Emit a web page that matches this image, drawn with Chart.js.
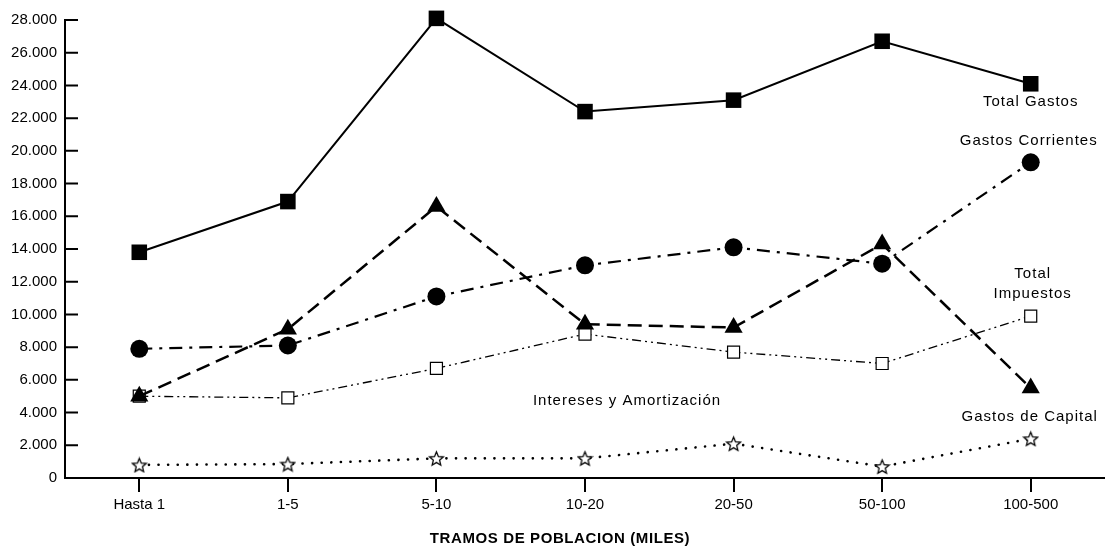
<!DOCTYPE html>
<html lang="es">
<head>
  <meta charset="UTF-8">
  <title>Tramos de poblacion</title>
  <script src="https://cdn.jsdelivr.net/npm/chart.js"></script>
  <style>
    body {
      margin: 0;
      background-color: #fff;
    }
    canvas {
      display: block;
    }
  </style>
</head>
<body>

<canvas id="tramosChart" width="1105" height="547"></canvas>

<script>
  // categorias y series
  const categories = ['Hasta 1', '1-5', '5-10', '10-20', '20-50', '50-100', '100-500'];
  const yTicks = [0, 2000, 4000, 6000, 8000, 10000, 12000, 14000, 16000, 18000, 20000, 22000, 24000, 26000, 28000];

  const totalGastos      = [13800, 16900, 28100, 22400, 23100, 26700, 24100];
  const gastosCorrientes = [7900, 8100, 11100, 13000, 14100, 13100, 19300];
  const gastosCapital    = [5000, 9100, 16600, 9400, 9200, 14300, 5500];
  const totalImpuestos   = [5000, 4900, 6700, 8800, 7700, 7000, 9900];
  const intereses        = [800, 850, 1200, 1200, 2100, 700, 2400];

  const FONT = '"Liberation Sans", Arial, Helvetica, sans-serif';

  // etiquetas de texto dentro del grafico
  const notes = [
    { text: 'Total Gastos', index: 6, value: 23000, dx: 0 },
    { text: 'Gastos Corrientes', index: 6, value: 20600, dx: -2 },
    { text: 'Total', index: 6, value: 12470, dx: 2 },
    { text: 'Impuestos', index: 6, value: 11250, dx: 2 },
    { text: 'Intereses y Amortización', index: 3, value: 4710, dx: 42 },
    { text: 'Gastos de Capital', index: 6, value: 3730, dx: -1 }
  ];

  function makeStar(size) {
    const c = document.createElement('canvas');
    c.width = size;
    c.height = size;
    const g = c.getContext('2d');
    const cx = size / 2, cy = size / 2 + 0.8;
    const R = size / 2 - 1.2, r = R * 0.45;
    g.beginPath();
    for (let i = 0; i < 10; i++) {
      const a = -Math.PI / 2 + i * Math.PI / 5;
      const rad = i % 2 === 0 ? R : r;
      const px = cx + rad * Math.cos(a), py = cy + rad * Math.sin(a);
      if (i === 0) g.moveTo(px, py); else g.lineTo(px, py);
    }
    g.closePath();
    g.fillStyle = '#fff';
    g.fill();
    g.lineWidth = 1.3;
    g.strokeStyle = '#000';
    g.stroke();
    return c;
  }

  function fmt(v) {
    return String(v).replace(/\B(?=(\d{3})+(?!\d))/g, '.');
  }

  const extras = {
    id: 'extras',
    afterDraw(chart) {
      const ctx = chart.ctx;
      const area = chart.chartArea;
      const x = chart.scales.x;
      const y = chart.scales.y;

      // marcas del eje y hacia dentro
      ctx.save();
      ctx.strokeStyle = '#000';
      ctx.lineWidth = 2;
      ctx.beginPath();
      y.ticks.forEach((t, i) => {
        const py = y.getPixelForTick(i);
        ctx.moveTo(area.left, py);
        ctx.lineTo(area.left + 13, py);
      });
      ctx.stroke();

      ctx.fillStyle = '#000';
      ctx.textAlign = 'center';
      ctx.textBaseline = 'middle';
      ctx.font = '15px ' + FONT;
      ctx.letterSpacing = '1px';
      notes.forEach(n => {
        ctx.fillText(n.text, x.getPixelForValue(n.index) + n.dx, y.getPixelForValue(n.value));
      });

      ctx.font = 'bold 15px ' + FONT;
      ctx.letterSpacing = '0.6px';
      ctx.fillText('TRAMOS DE POBLACION (MILES)', area.left + area.width * 0.476, 539);
      ctx.restore();
    }
  };

  const ctx = document.getElementById('tramosChart').getContext('2d');
  const tramosChart = new Chart(ctx, {
    type: 'line',
    data: {
      labels: categories,
      datasets: [
        {
          label: 'Total Gastos',
          data: totalGastos,
          borderColor: '#000',
          borderWidth: 2,
          pointStyle: 'rect',
          pointRadius: 11,
          pointBackgroundColor: '#000',
          pointBorderWidth: 0
        },
        {
          label: 'Gastos Corrientes',
          data: gastosCorrientes,
          borderColor: '#000',
          borderWidth: 2.2,
          borderDash: [13, 7, 3, 7],
          pointStyle: 'circle',
          pointRadius: 9,
          pointBackgroundColor: '#000',
          pointBorderWidth: 0
        },
        {
          label: 'Gastos de Capital',
          data: gastosCapital,
          borderColor: '#000',
          borderWidth: 2.5,
          borderDash: [14, 7],
          pointStyle: 'triangle',
          pointRadius: 10.5,
          pointBackgroundColor: '#000',
          pointBorderWidth: 0
        },
        {
          label: 'Total Impuestos',
          data: totalImpuestos,
          borderColor: '#000',
          borderWidth: 1.3,
          borderDash: [9, 4, 2, 4, 2, 4],
          pointStyle: 'rect',
          pointRadius: 8.5,
          pointBackgroundColor: '#fff',
          pointBorderColor: '#000',
          pointBorderWidth: 1.2
        },
        {
          label: 'Intereses y Amortización',
          data: intereses,
          borderColor: '#000',
          borderWidth: 2.6,
          borderDash: [0.1, 9.5],
          borderCapStyle: 'round',
          pointStyle: makeStar(17),
          pointRadius: 8
        }
      ]
    },
    options: {
      responsive: false,
      animation: false,
      clip: false,
      layout: {
        autoPadding: false,
        padding: { top: 20, right: 0, left: 0, bottom: 0 }
      },
      plugins: {
        legend: { display: false },
        tooltip: { enabled: false }
      },
      elements: {
        line: { tension: 0 }
      },
      scales: {
        x: {
          type: 'category',
          offset: true,
          grid: {
            drawOnChartArea: false,
            drawTicks: true,
            tickLength: 14,
            color: '#000',
            lineWidth: 2
          },
          border: { display: true, color: '#000', width: 2 },
          ticks: {
            color: '#000',
            padding: 4,
            maxRotation: 0,
            font: { family: FONT, size: 15 }
          },
          afterFit(scale) {
            scale.height = 69;
          }
        },
        y: {
          min: 0,
          max: 28000,
          afterBuildTicks(scale) {
            scale.ticks = yTicks.map(v => ({ value: v }));
          },
          grid: {
            drawOnChartArea: false,
            drawTicks: false
          },
          border: { display: true, color: '#000', width: 2 },
          ticks: {
            color: '#000',
            padding: 8,
            font: { family: FONT, size: 15 },
            callback: v => fmt(v)
          },
          afterFit(scale) {
            scale.width = 65;
          }
        }
      }
    },
    plugins: [extras]
  });
</script>
</body>
</html>
